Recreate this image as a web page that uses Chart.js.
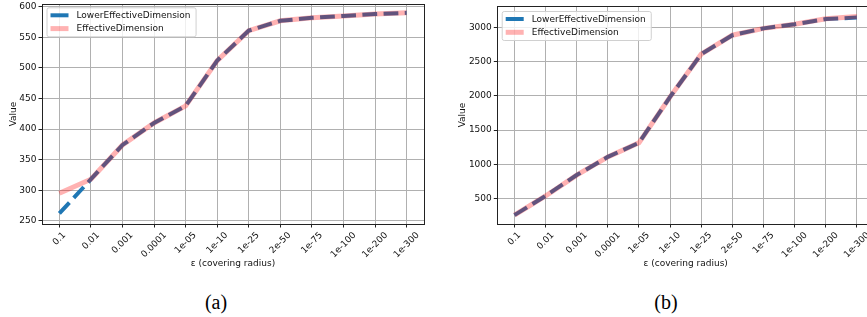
<!DOCTYPE html>
<html>
<head>
<meta charset="utf-8">
<script src="https://cdn.jsdelivr.net/npm/chart.js@4.4.1/dist/chart.umd.min.js"></script>
<style>
  html, body { margin: 0; padding: 0; background: #fff; overflow: hidden; }
  body { width: 867px; height: 317px; position: relative; }
  canvas { position: absolute; top: 0; }
  .cap { position: absolute; font-family: "Liberation Serif", serif; font-size: 20px; color: #000; transform: translate(-50%, -50%); }
</style>
</head>
<body>
<canvas id="chartA" width="430" height="275" style="left:0px"></canvas>
<canvas id="chartB" width="440" height="275" style="left:440px"></canvas>
<div class="cap" style="left:216px; top:302px">(a)</div>
<div class="cap" style="left:666px; top:302px">(b)</div>

<script>
// covering radius categories (x axis)
var categories = ['0.1', '0.01', '0.001', '0.0001', '1e-05', '1e-10', '1e-25', '2e-50', '1e-75', '1e-100', '1e-200', '1e-300'];

// panel (a)
var lowerA = [262, 318, 374, 410, 438, 512, 561, 577, 582, 585, 588, 590];
var effA   = [295, 318, 374, 410, 438, 512, 561, 577, 582, 585, 588, 590];
var yTicksA = [250, 300, 350, 400, 450, 500, 550, 600];

// panel (b)
var lowerB = [260, 540, 845, 1110, 1315, 1985, 2610, 2885, 2985, 3045, 3120, 3142];
var effB   = [260, 540, 845, 1110, 1315, 1985, 2610, 2885, 2985, 3045, 3125, 3158];
var yTicksB = [500, 1000, 1500, 2000, 2500, 3000];

var FONT = 'DejaVu Sans';

function toPoints(arr) {
  return arr.map(function (v, i) { return { x: i, y: v }; });
}

// draws rotated x tick labels centred on the tick, plus the box and the legend
var extras = {
  id: 'extras',
  afterDraw: function (chart) {
    var ctx = chart.ctx;
    var area = chart.chartArea;
    var xs = chart.scales.x;

    // x tick labels, 45 degrees, centred under the tick
    ctx.save();
    ctx.font = '9px "' + FONT + '"';
    ctx.fillStyle = '#111';
    ctx.textAlign = 'center';
    ctx.textBaseline = 'middle';
    categories.forEach(function (lab, i) {
      var px = xs.getPixelForValue(i);
      var w = ctx.measureText(lab).width;
      var half = (w + 8) * 0.7071 / 2;
      ctx.save();
      ctx.translate(px, area.bottom + 7 + half);
      ctx.rotate(-Math.PI / 4);
      ctx.fillText(lab, 0, 0);
      ctx.restore();
    });
    ctx.restore();

    // axes frame
    ctx.save();
    ctx.strokeStyle = '#222';
    ctx.lineWidth = 1;
    ctx.strokeRect(Math.round(area.left) + 0.5, Math.round(area.top) + 0.5,
      Math.round(area.right - area.left), Math.round(area.bottom - area.top));
    ctx.restore();

    // legend
    var off = chart.options.plugins.extras;
    var lx = area.left + off.dx, ly = area.top + off.dy;
    ctx.save();
    ctx.font = '9px "' + FONT + '"';
    var tw = 0;
    chart.data.datasets.forEach(function (ds) {
      tw = Math.max(tw, ctx.measureText(ds.label).width);
    });
    var bw = 30 + tw + 5, bh = 29;
    ctx.fillStyle = 'rgba(255,255,255,0.8)';
    ctx.strokeStyle = '#d0d0d0';
    ctx.lineWidth = 1;
    ctx.beginPath();
    ctx.roundRect(lx + 0.5, ly + 0.5, bw, bh, 2);
    ctx.fill();
    ctx.stroke();
    chart.data.datasets.forEach(function (ds, i) {
      var y = ly + 8 + i * 13.3;
      ctx.strokeStyle = ds.borderColor;
      ctx.lineWidth = ds.borderWidth;
      ctx.beginPath();
      ctx.moveTo(lx + 4, y);
      ctx.lineTo(lx + 22, y);
      ctx.stroke();
      ctx.fillStyle = '#111';
      ctx.textBaseline = 'middle';
      ctx.fillText(ds.label, lx + 30, y + 0.5);
    });
    ctx.restore();
  }
};

function makeChart(id, lower, eff, yTicks, yMin, yMax, yWidth, titlePad, padRight, padTop, legendPos) {
  var ctx = document.getElementById(id);
  return new Chart(ctx, {
    type: 'line',
    data: {
      datasets: [{
        label: 'LowerEffectiveDimension',
        data: toPoints(lower),
        borderColor: '#1f77b4',
        borderWidth: 4,
        borderDash: [14.8, 6.4],
        pointRadius: 0,
        fill: false,
        order: 1
      }, {
        label: 'EffectiveDimension',
        data: toPoints(eff),
        borderColor: 'rgba(255,0,0,0.3)',
        borderWidth: 5,
        pointRadius: 0,
        fill: false,
        order: 0
      }]
    },
    options: {
      responsive: false,
      animation: false,
      layout: { padding: { left: 0, right: padRight, top: padTop, bottom: 0 } },
      plugins: {
        legend: { display: false },
        tooltip: { enabled: false },
        extras: legendPos
      },
      scales: {
        x: {
          type: 'linear',
          min: -0.55,
          max: 11.55,
          ticks: { display: false, stepSize: 1, includeBounds: false },
          grid: { color: '#b0b0b0', lineWidth: 1, drawTicks: true, tickLength: 3.5, tickColor: '#222' },
          border: { display: false },
          title: {
            display: true,
            text: 'ε (covering radius)',
            color: '#111',
            font: { family: FONT, size: 9 },
            padding: { top: 0, bottom: 6 }
          },
          afterFit: function (s) {
            s.height = 51;
            s.paddingLeft = 0;
            s.paddingRight = 0;
          }
        },
        y: {
          min: yMin,
          max: yMax,
          afterBuildTicks: function (s) {
            s.ticks = yTicks.map(function (v) { return { value: v }; });
          },
          ticks: {
            padding: 2,
            color: '#111',
            font: { family: FONT, size: 9 },
            callback: function (v) { return String(v); }
          },
          grid: { color: '#b0b0b0', lineWidth: 1, drawTicks: true, tickLength: 3.5, tickColor: '#222' },
          border: { display: false },
          title: {
            display: true,
            text: 'Value',
            color: '#111',
            font: { family: FONT, size: 9 },
            padding: { top: titlePad, bottom: 0 }
          },
          afterFit: function (s) {
            s.width = yWidth;
            s.paddingTop = 0;
            s.paddingBottom = 0;
          }
        }
      }
    },
    plugins: [extras]
  });
}

makeChart('chartA', lowerA, effA, yTicksA, 244.8, 604.5, 42, 8.6, 6, 4, { dx: 4.5, dy: 3.3 });
makeChart('chartB', lowerB, effB, yTicksB, 131, 3311, 57.3, 17.4, 6, 6, { dx: 4.4, dy: 5 });
</script>
</body>
</html>
